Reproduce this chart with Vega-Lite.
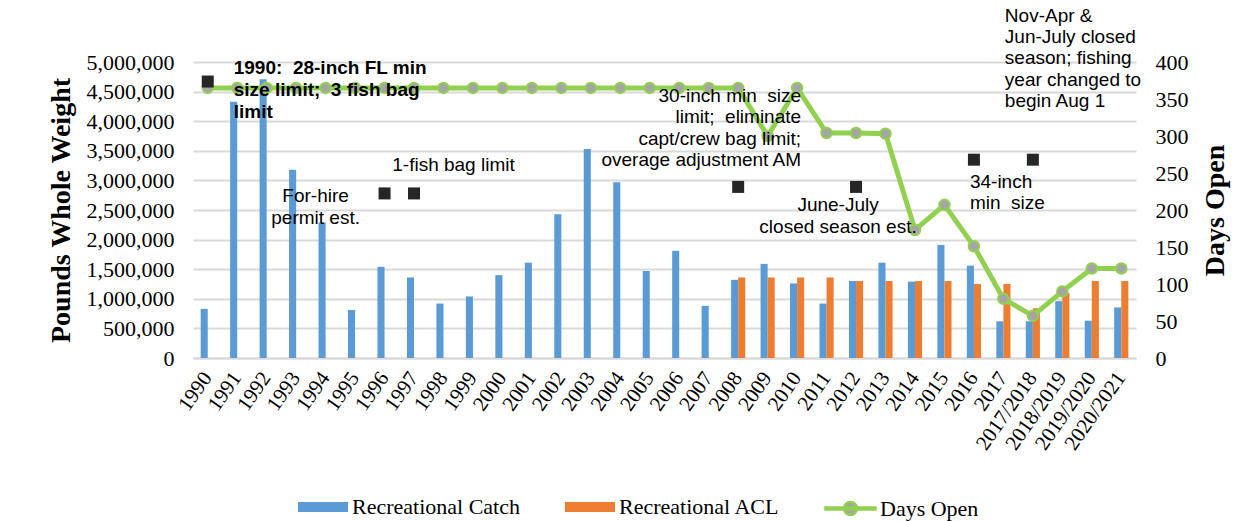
{
  "$schema": "https://vega.github.io/schema/vega-lite/v6.json",
  "autosize": "none",
  "width": 943,
  "height": 296,
  "padding": {"left": 193, "top": 62, "right": 120, "bottom": 163},
  "background": "white",
  "config": {
    "view": {"stroke": null},
    "axisX": {
      "labelAngle": -55,
      "labelFont": "Liberation Serif",
      "labelFontSize": 21,
      "labelColor": "#000000",
      "ticks": false,
      "domainColor": "#D9D9D9",
      "domainWidth": 2,
      "labelPadding": 16,
      "grid": false
    }
  },
  "datasets": {
    "bars": [
      {"year": "1990", "series": "Recreational Catch", "value": 830000},
      {"year": "1991", "series": "Recreational Catch", "value": 4330000},
      {"year": "1992", "series": "Recreational Catch", "value": 4710000},
      {"year": "1993", "series": "Recreational Catch", "value": 3180000},
      {"year": "1994", "series": "Recreational Catch", "value": 2290000},
      {"year": "1995", "series": "Recreational Catch", "value": 810000},
      {"year": "1996", "series": "Recreational Catch", "value": 1540000},
      {"year": "1997", "series": "Recreational Catch", "value": 1360000},
      {"year": "1998", "series": "Recreational Catch", "value": 920000},
      {"year": "1999", "series": "Recreational Catch", "value": 1040000},
      {"year": "2000", "series": "Recreational Catch", "value": 1400000},
      {"year": "2001", "series": "Recreational Catch", "value": 1610000},
      {"year": "2002", "series": "Recreational Catch", "value": 2430000},
      {"year": "2003", "series": "Recreational Catch", "value": 3530000},
      {"year": "2004", "series": "Recreational Catch", "value": 2970000},
      {"year": "2005", "series": "Recreational Catch", "value": 1470000},
      {"year": "2006", "series": "Recreational Catch", "value": 1810000},
      {"year": "2007", "series": "Recreational Catch", "value": 880000},
      {"year": "2008", "series": "Recreational Catch", "value": 1320000},
      {"year": "2009", "series": "Recreational Catch", "value": 1590000},
      {"year": "2010", "series": "Recreational Catch", "value": 1260000},
      {"year": "2011", "series": "Recreational Catch", "value": 920000},
      {"year": "2012", "series": "Recreational Catch", "value": 1300000},
      {"year": "2013", "series": "Recreational Catch", "value": 1610000},
      {"year": "2014", "series": "Recreational Catch", "value": 1290000},
      {"year": "2015", "series": "Recreational Catch", "value": 1910000},
      {"year": "2016", "series": "Recreational Catch", "value": 1560000},
      {"year": "2017", "series": "Recreational Catch", "value": 620000},
      {"year": "2017/2018", "series": "Recreational Catch", "value": 620000},
      {"year": "2018/2019", "series": "Recreational Catch", "value": 960000},
      {"year": "2019/2020", "series": "Recreational Catch", "value": 630000},
      {"year": "2020/2021", "series": "Recreational Catch", "value": 855000},
      {"year": "2008", "series": "Recreational ACL", "value": 1360000},
      {"year": "2009", "series": "Recreational ACL", "value": 1360000},
      {"year": "2010", "series": "Recreational ACL", "value": 1360000},
      {"year": "2011", "series": "Recreational ACL", "value": 1360000},
      {"year": "2012", "series": "Recreational ACL", "value": 1300000},
      {"year": "2013", "series": "Recreational ACL", "value": 1300000},
      {"year": "2014", "series": "Recreational ACL", "value": 1300000},
      {"year": "2015", "series": "Recreational ACL", "value": 1300000},
      {"year": "2016", "series": "Recreational ACL", "value": 1250000},
      {"year": "2017", "series": "Recreational ACL", "value": 1250000},
      {"year": "2017/2018", "series": "Recreational ACL", "value": 840000},
      {"year": "2018/2019", "series": "Recreational ACL", "value": 1100000},
      {"year": "2019/2020", "series": "Recreational ACL", "value": 1300000},
      {"year": "2020/2021", "series": "Recreational ACL", "value": 1300000}
    ],
    "days": [
      {"year": "1990", "days": 365},
      {"year": "1991", "days": 365},
      {"year": "1992", "days": 365},
      {"year": "1993", "days": 365},
      {"year": "1994", "days": 365},
      {"year": "1995", "days": 365},
      {"year": "1996", "days": 365},
      {"year": "1997", "days": 365},
      {"year": "1998", "days": 365},
      {"year": "1999", "days": 365},
      {"year": "2000", "days": 365},
      {"year": "2001", "days": 365},
      {"year": "2002", "days": 365},
      {"year": "2003", "days": 365},
      {"year": "2004", "days": 365},
      {"year": "2005", "days": 365},
      {"year": "2006", "days": 365},
      {"year": "2007", "days": 365},
      {"year": "2008", "days": 365},
      {"year": "2009", "days": 300},
      {"year": "2010", "days": 365},
      {"year": "2011", "days": 304},
      {"year": "2012", "days": 304},
      {"year": "2013", "days": 303},
      {"year": "2014", "days": 173},
      {"year": "2015", "days": 207},
      {"year": "2016", "days": 151},
      {"year": "2017", "days": 80},
      {"year": "2017/2018", "days": 57},
      {"year": "2018/2019", "days": 90},
      {"year": "2019/2020", "days": 121},
      {"year": "2020/2021", "days": 121}
    ],
    "markers": [
      {"year": "1990", "value": 4670000},
      {"year": "1996", "value": 2780000},
      {"year": "1997", "value": 2780000},
      {"year": "2008", "value": 2890000},
      {"year": "2012", "value": 2890000},
      {"year": "2016", "value": 3350000},
      {"year": "2017/2018", "value": 3350000}
    ],
    "noteBold": [
      {"year": "1990", "value": 4790000, "note": "1990:\u00a0 28-inch FL min\nsize limit;\u00a0 3 fish bag\nlimit"}
    ],
    "noteForHire": [
      {"year": "1994", "value": 2636000, "note": "For-hire\npermit est."}
    ],
    "noteFish": [
      {"year": "1998", "value": 3160000, "note": "1-fish bag limit"}
    ],
    "noteJune": [
      {"year": "2012", "value": 2484000, "note": "June-July\nclosed season est."}
    ],
    "noteRight": [
      {"year": "2010", "value": 4330000, "note": "30-inch min\u00a0 size\nlimit;\u00a0 eliminate\ncapt/crew bag limit;\noverage adjustment AM"}
    ],
    "noteLeft34": [
      {"year": "2016", "value": 2873000, "note": "34-inch\nmin\u00a0 size"}
    ],
    "noteLeftNov": [
      {"year": "2017/2018", "value": 5680000, "note": "Nov-Apr &\nJun-July closed\nseason; fishing\nyear changed to\nbegin Aug 1"}
    ]
  },
  "resolve": {"scale": {"y": "independent"}, "axis": {"y": "independent"}},
  "layer": [
    {
      "data": {"name": "bars"},
      "mark": {"type": "bar"},
      "encoding": {
        "x": {
          "field": "year", "type": "nominal", "sort": null, "title": null,
          "scale": {
            "domain": ["1990","1991","1992","1993","1994","1995","1996","1997","1998","1999","2000","2001","2002","2003","2004","2005","2006","2007","2008","2009","2010","2011","2012","2013","2014","2015","2016","2017","2017/2018","2018/2019","2019/2020","2020/2021"],
            "paddingInner": 0.52, "paddingOuter": 0.26
          }
        },
        "xOffset": {"field": "series", "scale": {"domain": ["Recreational Catch", "Recreational ACL"], "paddingInner": 0, "paddingOuter": 0}},
        "y": {
          "field": "value", "type": "quantitative",
          "scale": {"domain": [0, 5000000], "nice": false},
          "axis": {
            "title": "Pounds Whole Weight",
            "titleFont": "Liberation Serif", "titleFontSize": 28, "titleFontWeight": "bold", "titleColor": "#000000",
            "titlePadding": 11,
            "values": [0,500000,1000000,1500000,2000000,2500000,3000000,3500000,4000000,4500000,5000000],
            "format": ",d",
            "labelFont": "Liberation Serif", "labelFontSize": 22, "labelColor": "#000000",
            "labelPadding": 19,
            "ticks": false, "domain": false,
            "grid": true, "gridColor": "#D9D9D9", "gridWidth": 2
          }
        },
        "color": {
          "field": "series", "type": "nominal",
          "scale": {"domain": ["Recreational Catch", "Recreational ACL"], "range": ["#5B9BD5", "#ED7D31"]},
          "legend": {
            "title": null, "orient": "none", "legendX": 105, "legendY": 420,
            "direction": "horizontal",
            "symbolType": "M-1,-0.2H1V0.2H-1Z", "symbolSize": 2500, "symbolStrokeWidth": 0,
            "labelFont": "Liberation Serif", "labelFontSize": 22, "labelColor": "#000000",
            "labelLimit": 0,
            "labelOffset": 4, "columnPadding": 45
          }
        }
      }
    },
    {
      "data": {"name": "days"},
      "mark": {"type": "line", "strokeWidth": 5},
      "encoding": {
        "x": {"field": "year", "type": "nominal", "sort": null, "title": null},
        "y": {
          "field": "days", "type": "quantitative",
          "scale": {"domain": [0, 400], "nice": false},
          "axis": {
            "orient": "right",
            "title": "Days Open",
            "titleFont": "Liberation Serif", "titleFontSize": 28, "titleFontWeight": "bold", "titleColor": "#000000",
            "titleAngle": 270, "titleBaseline": "top", "titlePadding": 13,
            "values": [0,50,100,150,200,250,300,350,400],
            "labelFont": "Liberation Serif", "labelFontSize": 22, "labelColor": "#000000",
            "labelPadding": 19,
            "ticks": false, "domain": false, "grid": false
          }
        },
        "stroke": {
          "datum": "Days Open",
          "scale": {"domain": ["Days Open"], "range": ["#92D050"]},
          "legend": {
            "title": null, "orient": "none", "legendX": 631, "legendY": 420,
            "symbolType": "M-1,-0.04H1V0.04H-1Z M0.26,0A0.26,0.26,0,1,1,-0.26,0A0.26,0.26,0,1,1,0.26,0Z",
            "symbolSize": 2500,
            "labelFont": "Liberation Serif", "labelFontSize": 22, "labelColor": "#000000",
            "labelLimit": 0,
            "labelOffset": 3,
            "encode": {"symbols": {"update": {"fill": {"value": "#A5A5A5"}, "fillOpacity": {"value": 1}, "stroke": {"value": "#92D050"}, "strokeWidth": {"value": 2.5}}}}
          }
        }
      }
    },
    {
      "data": {"name": "days"},
      "mark": {"type": "point", "filled": true, "fill": "#A5A5A5", "stroke": "#92D050", "strokeWidth": 2, "size": 110, "opacity": 1},
      "encoding": {
        "x": {"field": "year", "type": "nominal", "sort": null, "title": null},
        "y": {"field": "days", "type": "quantitative", "scale": {"domain": [0, 400], "nice": false}, "axis": null}
      }
    },
    {
      "data": {"name": "markers"},
      "mark": {"type": "square", "filled": true, "color": "#262626", "size": 144, "opacity": 1},
      "encoding": {
        "x": {"field": "year", "type": "nominal", "sort": null, "title": null},
        "y": {"field": "value", "type": "quantitative", "scale": {"domain": [0, 5000000], "nice": false}, "axis": null}
      }
    },
    {
      "data": {"name": "noteBold"},
      "mark": {"type": "text", "font": "Liberation Sans", "fontSize": 19, "fontWeight": "bold", "align": "left", "baseline": "alphabetic", "lineBreak": "\n", "lineHeight": 22, "dx": 26, "color": "#000000"},
      "encoding": {
        "x": {"field": "year", "type": "nominal", "sort": null, "title": null},
        "y": {"field": "value", "type": "quantitative", "scale": {"domain": [0, 5000000], "nice": false}, "axis": null},
        "text": {"field": "note"}
      }
    },
    {
      "data": {"name": "noteForHire"},
      "mark": {"type": "text", "font": "Liberation Sans", "fontSize": 19, "align": "center", "baseline": "alphabetic", "lineBreak": "\n", "lineHeight": 22, "dx": -10, "color": "#000000"},
      "encoding": {
        "x": {"field": "year", "type": "nominal", "sort": null, "title": null},
        "y": {"field": "value", "type": "quantitative", "scale": {"domain": [0, 5000000], "nice": false}, "axis": null},
        "text": {"field": "note"}
      }
    },
    {
      "data": {"name": "noteFish"},
      "mark": {"type": "text", "font": "Liberation Sans", "fontSize": 19, "align": "center", "baseline": "alphabetic", "lineBreak": "\n", "lineHeight": 22, "dx": 10, "color": "#000000"},
      "encoding": {
        "x": {"field": "year", "type": "nominal", "sort": null, "title": null},
        "y": {"field": "value", "type": "quantitative", "scale": {"domain": [0, 5000000], "nice": false}, "axis": null},
        "text": {"field": "note"}
      }
    },
    {
      "data": {"name": "noteJune"},
      "mark": {"type": "text", "font": "Liberation Sans", "fontSize": 19, "align": "center", "baseline": "alphabetic", "lineBreak": "\n", "lineHeight": 22, "dx": -18, "color": "#000000"},
      "encoding": {
        "x": {"field": "year", "type": "nominal", "sort": null, "title": null},
        "y": {"field": "value", "type": "quantitative", "scale": {"domain": [0, 5000000], "nice": false}, "axis": null},
        "text": {"field": "note"}
      }
    },
    {
      "data": {"name": "noteRight"},
      "mark": {"type": "text", "font": "Liberation Sans", "fontSize": 19, "align": "right", "baseline": "alphabetic", "lineBreak": "\n", "lineHeight": 21.5, "dx": 4, "color": "#000000"},
      "encoding": {
        "x": {"field": "year", "type": "nominal", "sort": null, "title": null},
        "y": {"field": "value", "type": "quantitative", "scale": {"domain": [0, 5000000], "nice": false}, "axis": null},
        "text": {"field": "note"}
      }
    },
    {
      "data": {"name": "noteLeft34"},
      "mark": {"type": "text", "font": "Liberation Sans", "fontSize": 19, "align": "left", "baseline": "alphabetic", "lineBreak": "\n", "lineHeight": 21, "dx": -4, "color": "#000000"},
      "encoding": {
        "x": {"field": "year", "type": "nominal", "sort": null, "title": null},
        "y": {"field": "value", "type": "quantitative", "scale": {"domain": [0, 5000000], "nice": false}, "axis": null},
        "text": {"field": "note"}
      }
    },
    {
      "data": {"name": "noteLeftNov"},
      "mark": {"type": "text", "font": "Liberation Sans", "fontSize": 19, "align": "left", "baseline": "alphabetic", "lineBreak": "\n", "lineHeight": 21.3, "dx": -28, "color": "#000000"},
      "encoding": {
        "x": {"field": "year", "type": "nominal", "sort": null, "title": null},
        "y": {"field": "value", "type": "quantitative", "scale": {"domain": [0, 5000000], "nice": false}, "axis": null},
        "text": {"field": "note"}
      }
    }
  ]
}
